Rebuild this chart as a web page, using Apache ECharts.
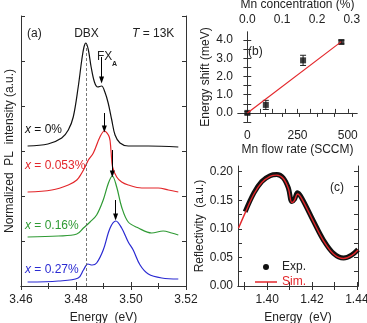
<!DOCTYPE html>
<html lang="en">
<head>
  <meta charset="UTF-8">
  <title>PL / energy shift / reflectivity</title>
  <script src="https://cdn.jsdelivr.net/npm/echarts@6/dist/echarts.min.js"></script>
  <style>
    html, body { margin: 0; padding: 0; background: #fff; }
  </style>
</head>
<body>
  <div id="chart" style="width: 367px;height: 323px;"></div>
  <script>
    const myEcharts = echarts.init(document.getElementById('chart'))

    const FONT = 'Liberation Sans'
    const TXT = '#222'
    const RED = '#e3262a'
    const GREEN = '#2f9a34'
    const BLUE = '#2a2ad2'

    // (a) PL spectra, offset for clarity: [energy eV, intensity a.u.]
    const plX0 = [[3.4624, 14.0], [3.4698, 14.2], [3.4748, 14.8], [3.4772, 15.6], [3.4790, 16.9], [3.4808, 19.9],
      [3.4821, 22.6], [3.4829, 23.9], [3.4836, 24.3], [3.4845, 23.6], [3.4855, 21.9], [3.4867, 20.4], [3.4879, 19.9],
      [3.4893, 20.0], [3.4905, 19.4], [3.4917, 18.3], [3.4930, 16.6], [3.4942, 15.1], [3.4960, 14.3], [3.4990, 14.0],
      [3.5063, 14.0], [3.5172, 13.9]]
    const plX053 = [[3.4624, 9.4], [3.4712, 9.6], [3.4772, 10.1], [3.4803, 10.6], [3.4821, 11.3], [3.4833, 11.9],
      [3.4845, 12.6], [3.4863, 13.3], [3.4887, 14.9], [3.4903, 15.5], [3.4921, 14.9], [3.4927, 13.6], [3.4933, 11.9],
      [3.4948, 10.9], [3.4966, 10.4], [3.4990, 10.1], [3.5039, 9.8], [3.5099, 9.8], [3.5136, 9.6], [3.5172, 9.4]]
    const plX16 = [[3.4624, 4.9], [3.4736, 5.0], [3.4803, 5.2], [3.4827, 5.8], [3.4851, 6.4], [3.4875, 7.1],
      [3.4899, 8.6], [3.4918, 10.3], [3.4932, 11.0], [3.4948, 9.9], [3.4966, 7.9], [3.4990, 6.4], [3.5027, 5.8],
      [3.5075, 5.3], [3.5117, 5.5], [3.5148, 5.3], [3.5172, 5.1]]
    const plX27 = [[3.4624, 0.4], [3.4736, 0.5], [3.4808, 0.8], [3.4827, 1.6], [3.4843, 2.2], [3.4859, 2.1],
      [3.4875, 2.3], [3.4899, 3.6], [3.4924, 5.8], [3.4945, 6.5], [3.4966, 5.8], [3.4990, 4.4], [3.5008, 3.6],
      [3.5033, 2.1], [3.5063, 1.2], [3.5112, 0.8], [3.5172, 0.7]]
    // FX_A arrows: [energy, from, to]
    const fxArrows = [[3.4893, 22.9, 20.6], [3.4903, 17.3, 15.7], [3.4932, 13.6, 11.2], [3.4944, 8.6, 6.9]]
    const dbxEnergy = 3.4837

    // (b) energy shift vs Mn concentration
    const mnConc = [0, 0.053, 0.16, 0.27]
    const shift = [0.0, 0.44, 2.89, 3.9]
    const shiftErr = [0.07, 0.25, 0.28, 0.1]
    const fitLine = [[0, 0], [0.27, 3.92]]

    // (c) reflectivity
    const reflExp = [[1.3902, 0.130], [1.3941, 0.163], [1.3976, 0.183], [1.4013, 0.193], [1.4043, 0.195],
      [1.4072, 0.189], [1.4095, 0.171], [1.4110, 0.148], [1.4122, 0.152], [1.4135, 0.163], [1.4154, 0.154],
      [1.4207, 0.113], [1.4250, 0.081], [1.4296, 0.057], [1.4341, 0.049], [1.4376, 0.054], [1.4405, 0.064]]
    const reflSim = [[1.3872, 0.101], [1.3902, 0.128], [1.3941, 0.161], [1.3976, 0.181], [1.4013, 0.192],
      [1.4043, 0.194], [1.4072, 0.188], [1.4095, 0.170], [1.4110, 0.146], [1.4122, 0.150], [1.4135, 0.161],
      [1.4154, 0.153], [1.4207, 0.112], [1.4250, 0.080], [1.4296, 0.056], [1.4341, 0.048], [1.4376, 0.053],
      [1.4405, 0.063]]

    const line = { show: true, lineStyle: { color: '#333', width: 1 } }
    const tick = { show: true, inside: true, length: 4, lineStyle: { color: '#333' } }
    const label = { color: TXT, fontFamily: FONT, fontSize: 12 }
    const nameStyle = { color: TXT, fontFamily: FONT, fontSize: 12 }
    const range = (a, b, s) => { const r = []; for (let v = a; v <= b + 1e-9; v += s) r.push(+v.toFixed(4)); return r }

    // an axis that only draws the frame + ticks on the opposite side
    function mirror(gridIndex, pos, min, max, ticks) {
      return {
        type: 'value', gridIndex, position: pos, min, max,
        axisLine: line, splitLine: { show: false }, axisLabel: { show: false },
        axisTick: Object.assign({}, tick, ticks.custom ? { customValues: ticks.custom } : {}),
        interval: ticks.interval, minorTick: ticks.minor || { show: false }
      }
    }

    const aTicksX = { interval: 0.02, minor: { show: true, splitNumber: 2, length: 3, lineStyle: { color: '#333' } } }
    const aTicksY = { interval: 4.5 }
    const bTicksY = { custom: range(-0.5, 4.0, 0.5) }
    const cTicksX = { custom: range(1.39, 1.44, 0.01) }
    const cTicksY = { custom: range(0, 0.2, 0.025) }

    const curve = (name, data, color) => ({
      type: 'line', name, data, xAxisIndex: 0, yAxisIndex: 0, smooth: 0.35,
      symbol: 'none', lineStyle: { color, width: 1.2 }, itemStyle: { color }
    })

    const txt = (x, y, text, extra) => ({
      type: 'text', x, y, silent: true,
      style: Object.assign({
        text, fill: TXT, fontFamily: FONT, fontSize: 12,
        align: 'left', verticalAlign: 'middle', textAlign: 'left', textVerticalAlign: 'middle'
      }, extra || {})
    })
    const xLabel = (y, val, color) => txt(25, y, '{i|x} = ' + val, {
      fill: color,
      rich: { i: { fontStyle: 'italic', fontFamily: FONT, fontSize: 12, fill: color } }
    })

    const black = curve('x = 0%', plX0, '#111')
    black.markLine = {
      silent: true, animation: false, label: { show: false },
      data: [
        [{ coord: [dbxEnergy, 0], symbol: 'none', lineStyle: { type: [3, 2], color: '#555', width: 0.8 } },
          { coord: [dbxEnergy, 24.2], symbol: 'none' }]
      ].concat(fxArrows.map(a => [
        { coord: [a[0], a[1]], symbol: 'none', lineStyle: { type: 'solid', color: '#000', width: 1 } },
        { coord: [a[0], a[2]], symbol: 'triangle', symbolSize: [5, 7], symbolRotate: 180 }
      ]))
    }

    const option = {
      animation: false,
      grid: [
        { left: 21, top: 16, width: 165, height: 270, outerBoundsMode: 'none' },
        { left: 238, top: 32, width: 119, height: 90, outerBoundsMode: 'none' },
        { left: 238, top: 166, width: 120, height: 120, outerBoundsMode: 'none' }
      ],
      xAxis: [
        {
          type: 'value', gridIndex: 0, min: 3.46, max: 3.52, interval: 0.02,
          name: 'Energy  (eV)', nameLocation: 'middle', nameGap: 26, nameTextStyle: nameStyle,
          axisLine: line, axisTick: tick, splitLine: { show: false },
          minorTick: aTicksX.minor,
          axisLabel: Object.assign({ margin: 8, formatter: v => v.toFixed(2) }, label)
        },
        mirror(0, 'top', 3.46, 3.52, aTicksX),
        {
          type: 'value', gridIndex: 1, min: -46, max: 546, position: 'bottom',
          name: 'Mn flow rate (SCCM)', nameLocation: 'middle', nameGap: 22, nameTextStyle: nameStyle,
          axisLine: line, splitLine: { show: false },
          axisTick: Object.assign({}, tick, { customValues: range(0, 500, 62.5) }),
          axisLabel: Object.assign({ margin: 8, customValues: [0, 250, 500] }, label)
        },
        {
          type: 'value', gridIndex: 1, min: -0.027, max: 0.315, position: 'top',
          name: 'Mn concentration (%)', nameLocation: 'middle', nameGap: 21, nameTextStyle: nameStyle,
          axisLine: line, splitLine: { show: false },
          axisTick: Object.assign({}, tick, { customValues: range(0, 0.3, 0.05) }),
          axisLabel: Object.assign({ margin: 6, customValues: [0, 0.1, 0.2, 0.3], formatter: v => v.toFixed(1) }, label)
        },
        {
          type: 'value', gridIndex: 2, min: 1.387, max: 1.4405,
          name: 'Energy  (eV)', nameLocation: 'middle', nameGap: 26, nameTextStyle: nameStyle,
          axisLine: line, splitLine: { show: false },
          axisTick: Object.assign({}, tick, { customValues: cTicksX.custom }),
          axisLabel: Object.assign({
            margin: 8, customValues: [1.40, 1.42, 1.44], alignMaxLabel: 'center', formatter: v => v.toFixed(2)
          }, label)
        },
        mirror(2, 'top', 1.387, 1.4405, cTicksX)
      ],
      yAxis: [
        {
          type: 'value', gridIndex: 0, min: 0, max: 27, interval: 4.5,
          name: 'Normalized  PL  intensity (a.u.)', nameLocation: 'middle', nameGap: 5, nameTextStyle: nameStyle,
          axisLine: line, axisTick: tick, splitLine: { show: false }, axisLabel: { show: false }
        },
        mirror(0, 'right', 0, 27, aTicksY),
        {
          type: 'value', gridIndex: 1, min: -0.5, max: 4.45,
          name: 'Energy shift (meV)', nameLocation: 'middle', nameGap: 26, nameTextStyle: nameStyle,
          axisLine: line, splitLine: { show: false },
          axisTick: Object.assign({}, tick, { customValues: bTicksY.custom }),
          axisLabel: Object.assign({ margin: 5, customValues: [0, 1, 2, 3, 4], formatter: v => v.toFixed(1) }, label)
        },
        mirror(1, 'right', -0.5, 4.45, bTicksY),
        {
          type: 'value', gridIndex: 2, min: 0, max: 0.21,
          name: 'Reflectivity  (a.u.)', nameLocation: 'middle', nameGap: 30, nameTextStyle: nameStyle,
          axisLine: line, splitLine: { show: false },
          axisTick: Object.assign({}, tick, { customValues: cTicksY.custom }),
          axisLabel: Object.assign({ margin: 5, customValues: range(0, 0.2, 0.05), formatter: v => v.toFixed(2) }, label)
        },
        mirror(2, 'right', 0, 0.21, cTicksY)
      ],
      legend: {
        left: 250, top: 256, orient: 'vertical', itemWidth: 22, itemHeight: 6, itemGap: 3,
        textStyle: { color: TXT, fontFamily: FONT, fontSize: 12 },
        data: [
          { name: 'Exp.', icon: 'circle' },
          { name: 'Sim.', icon: 'path://M0,0 L22,0 L22,1.5 L0,1.5 Z', textStyle: { color: RED } }
        ]
      },
      graphic: [
        txt(27, 34, '(a)'),
        txt(86.5, 34, 'DBX', { align: 'center', textAlign: 'center' }),
        txt(132, 34, '{i|T} = 13K', { rich: { i: { fontStyle: 'italic', fontFamily: FONT, fontSize: 12, fill: TXT } } }),
        txt(97, 57, 'FX'),
        txt(112, 64, 'A', { fontSize: 7, fontWeight: 'bold' }),
        txt(248, 52, '(b)'),
        txt(330, 188, '(c)'),
        xLabel(130, '0%', '#111'),
        xLabel(166, '0.053%', RED),
        xLabel(226, '0.16%', GREEN),
        xLabel(270, '0.27%', BLUE)
      ],
      series: [
        black,
        curve('x = 0.053%', plX053, RED),
        curve('x = 0.16%', plX16, GREEN),
        curve('x = 0.27%', plX27, BLUE),
        {
          type: 'line', name: 'fit', data: fitLine, xAxisIndex: 3, yAxisIndex: 2,
          symbol: 'none', lineStyle: { color: RED, width: 1.2 }
        },
        {
          type: 'custom', name: 'err', xAxisIndex: 3, yAxisIndex: 2,
          data: mnConc.map((c, i) => [c, shift[i], shiftErr[i]]),
          renderItem(params, api) {
            const x = api.value(0), y = api.value(1), e = api.value(2)
            const hi = api.coord([x, y + e]), lo = api.coord([x, y - e])
            const st = { stroke: '#222', lineWidth: 1 }
            return {
              type: 'group', children: [
                { type: 'line', shape: { x1: hi[0], y1: hi[1], x2: lo[0], y2: lo[1] }, style: st },
                { type: 'line', shape: { x1: hi[0] - 3, y1: hi[1], x2: hi[0] + 3, y2: hi[1] }, style: st },
                { type: 'line', shape: { x1: lo[0] - 3, y1: lo[1], x2: lo[0] + 3, y2: lo[1] }, style: st }
              ]
            }
          }
        },
        {
          type: 'scatter', name: 'shift', xAxisIndex: 3, yAxisIndex: 2,
          data: mnConc.map((c, i) => [c, shift[i]]),
          symbol: 'rect', symbolSize: 6, itemStyle: { color: '#111' }
        },
        {
          type: 'line', name: 'Exp.', data: reflExp, xAxisIndex: 4, yAxisIndex: 4, smooth: 0.35,
          symbol: 'none', lineStyle: { color: '#111', width: 5 }, itemStyle: { color: '#111' }
        },
        {
          type: 'line', name: 'Sim.', data: reflSim, xAxisIndex: 4, yAxisIndex: 4, smooth: 0.35,
          symbol: 'none', lineStyle: { color: RED, width: 1.4 }, itemStyle: { color: RED }
        }
      ]
    }

    myEcharts.setOption(option)
  </script>
</body>
</html>
